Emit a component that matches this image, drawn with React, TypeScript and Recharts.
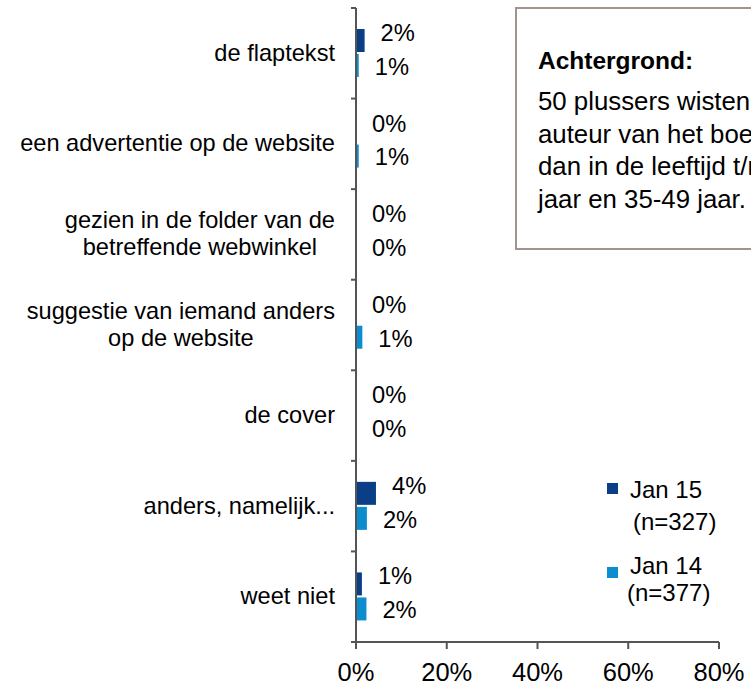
import React from 'react';
import { BarChart, Bar, XAxis, YAxis, LabelList, Legend, Customized } from 'recharts';

const categories = [
  'de flaptekst',
  'een advertentie op de website',
  'gezien in de folder van de\nbetreffende webwinkel',
  'suggestie van iemand anders\nop de website',
  'de cover',
  'anders, namelijk...',
  'weet niet',
];
const jan15Values = [0.019, 0, 0, 0, 0, 0.044, 0.013];
const jan14Values = [0.006, 0.006, 0, 0.014, 0, 0.024, 0.023];
const xTicks = [0, 0.2, 0.4, 0.6, 0.8];
const seriesKeys = ['jan15', 'jan14'];
const seriesNames = ['Jan 15', 'Jan 14'];
const seriesSampleSizes = ['(n=327)', '(n=377)'];
const seriesColors = ['#0A3F87', '#0B8DD0'];
const boxTitle = 'Achtergrond:';
const boxLines = ['50 plussers wisten', 'auteur van het boek', 'dan in de leeftijd t/m', 'jaar en 35-49 jaar.'];

const data = categories.map((name, i) => ({ name, jan15: jan15Values[i], jan14: jan14Values[i] }));

const FONT = "'Liberation Sans', Arial, sans-serif";
const W = 751;
const H = 684;
const MARGIN = { top: 8, right: 32, bottom: 0, left: 0 };
const Y_AXIS_W = 356;
const X_AXIS_H = 42;
const PLOT_H = H - MARGIN.top - MARGIN.bottom - X_AXIS_H;
const BAND = PLOT_H / categories.length;
const AXIS_COLOR = '#555555';

let ctx: CanvasRenderingContext2D | null = null;
const measure = (t: string, font: string) => {
  if (!ctx) ctx = document.createElement('canvas').getContext('2d');
  if (!ctx) return t.length * 12;
  ctx.font = font;
  return ctx.measureText(t).width;
};

const CAT_FS = 23.6;

const CategoryTick = (props: any) => {
  const { x, y, payload, index } = props;
  const axisX = MARGIN.left + Y_AXIS_W;
  const lines = String(payload.value).split('\n');
  const rightX = x;
  const ticks = [y - BAND / 2];
  if (index === categories.length - 1) ticks.push(y + BAND / 2);
  let textEls;
  if (lines.length === 1) {
    textEls = (
      <text x={rightX} y={y + 7.5} textAnchor="end" fontSize={CAT_FS} fontFamily={FONT} fill="#000">
        {lines[0]}
      </text>
    );
  } else {
    const font = `${CAT_FS}px ${FONT}`;
    const maxW = Math.max(...lines.map((l) => measure(l, font)));
    const cx = rightX - maxW / 2;
    const lh = 27;
    const start = y + 7.5 - ((lines.length - 1) * lh) / 2;
    textEls = lines.map((l, i) => (
      <text key={i} x={cx} y={start + i * lh} textAnchor="middle" fontSize={CAT_FS} fontFamily={FONT} fill="#000">
        {l}
      </text>
    ));
  }
  return (
    <g>
      {ticks.map((ty, i) => (
        <line key={i} x1={axisX - 5} x2={axisX} y1={ty} y2={ty} stroke={AXIS_COLOR} strokeWidth={2} />
      ))}
      {textEls}
    </g>
  );
};

const makeLabel = (baselineShift: number) => (props: any) => {
  const { x, y, width, height, value } = props;
  const lx = Number(x) + Math.max(0, Number(width)) + 16;
  const ly = Number(y) + Number(height) / 2 + baselineShift;
  return (
    <text x={lx} y={ly} textAnchor="start" fontSize={23.7} fontFamily={FONT} fill="#000">
      {`${Math.round(Number(value) * 100)}%`}
    </text>
  );
};

const labelShifts = [0.5, 9.3];

const LegendContent = () => {
  const markerY = [483, 567];
  const nameBase = [498, 574];
  const sizeBase = [530, 601];
  const sizeX = [633, 627];
  return (
    <svg width={W} height={H} style={{ position: 'absolute', left: 0, top: 0 }}>
      {seriesNames.map((n, i) => (
        <g key={n}>
          <rect x={607} y={markerY[i]} width={11} height={11} fill={seriesColors[i]} />
          <text x={630} y={nameBase[i]} fontSize={24} fontFamily={FONT} fill="#000">
            {n}
          </text>
          <text x={sizeX[i]} y={sizeBase[i]} fontSize={24} fontFamily={FONT} fill="#000">
            {seriesSampleSizes[i]}
          </text>
        </g>
      ))}
    </svg>
  );
};

const InfoBox = () => {
  const base = [110, 143, 175, 208];
  return (
    <g>
      <rect x={516} y={8} width={300} height={241} fill="#fff" stroke="#A0948F" strokeWidth={2} />
      <text x={538} y={69} fontSize={24.5} fontWeight="bold" fontFamily={FONT} fill="#000">
        {boxTitle}
      </text>
      {boxLines.map((l, i) => (
        <text key={i} x={538} y={base[i]} fontSize={25.8} fontFamily={FONT} fill="#000">
          {l}
        </text>
      ))}
    </g>
  );
};

export default function App() {
  return (
    <div style={{ position: 'absolute', left: 0, top: 0, background: '#fff' }}>
      <BarChart
        width={W}
        height={H}
        data={data}
        layout="vertical"
        margin={MARGIN}
        barSize={23}
        barGap={2}
      >
        <XAxis
          type="number"
          domain={[0, 0.8]}
          ticks={xTicks}
          interval={0}
          height={X_AXIS_H}
          tickSize={7}
          tickMargin={14}
          stroke={AXIS_COLOR}
          strokeWidth={2}
          axisLine={{ stroke: AXIS_COLOR, strokeWidth: 2 }}
          tickLine={{ stroke: AXIS_COLOR, strokeWidth: 2 }}
          tick={{ fontSize: 25.5, fill: '#000', fontFamily: FONT }}
          tickFormatter={(v: number) => `${Math.round(v * 100)}%`}
        />
        <YAxis
          type="category"
          dataKey="name"
          width={Y_AXIS_W}
          interval={0}
          tickSize={5}
          tickMargin={16}
          tickLine={false}
          axisLine={{ stroke: AXIS_COLOR, strokeWidth: 2 }}
          tick={<CategoryTick />}
        />
        <Customized component={<InfoBox />} />
        {seriesKeys.map((k, i) => (
          <Bar
            key={k}
            dataKey={k}
            name={seriesNames[i]}
            fill={seriesColors[i]}
            minPointSize={0.01}
            isAnimationActive={false}
          >
            <LabelList dataKey={k} content={makeLabel(labelShifts[i])} />
          </Bar>
        ))}
        <Legend
          layout="horizontal"
          verticalAlign="middle"
          align="center"
          content={<LegendContent />}
          wrapperStyle={{ position: 'absolute', left: 0, top: 0, width: W, height: H, margin: 0, pointerEvents: 'none' }}
        />
      </BarChart>
    </div>
  );
}
